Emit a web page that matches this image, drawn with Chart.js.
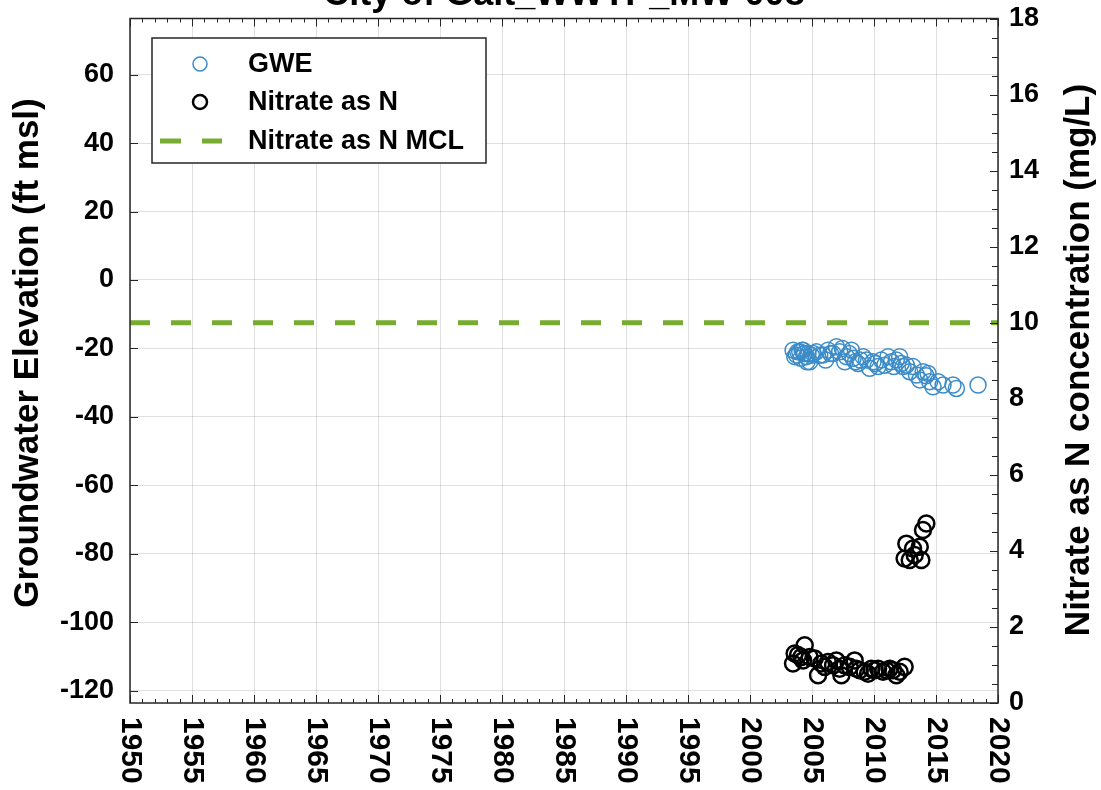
<!DOCTYPE html>
<html>
<head>
<meta charset="utf-8">
<script src="https://cdn.jsdelivr.net/npm/chart.js@4.4.0/dist/chart.umd.min.js"></script>
<style>
  html, body { margin: 0; padding: 0; background: #fff; overflow: hidden; }
  canvas { display: block; }
</style>
</head>
<body>
<canvas id="chart" width="1101" height="790"></canvas>
<script>
// data
const chartTitle = 'City of Galt_WWTP_MW-008';
const leftTitle = 'Groundwater Elevation (ft msl)';
const rightTitle = 'Nitrate as N concentration (mg/L)';

const gweYears = [2003.47, 2003.61, 2003.74, 2003.85, 2004.01, 2004.10, 2004.20, 2004.28, 2004.35, 2004.41,
  2004.55, 2004.60, 2004.68, 2004.82, 2004.95, 2005.10, 2005.35, 2005.62, 2005.89, 2006.10,
  2006.29, 2006.50, 2006.70, 2006.97, 2007.23, 2007.45, 2007.64, 2007.77, 2008.00, 2008.18,
  2008.31, 2008.50, 2008.71, 2008.90, 2009.12, 2009.39, 2009.65, 2009.92, 2010.10, 2010.33,
  2010.59, 2010.86, 2011.13, 2011.40, 2011.60, 2011.80, 2012.07, 2012.20, 2012.34, 2012.61,
  2012.88, 2013.15, 2013.42, 2013.69, 2013.96, 2014.20, 2014.36, 2014.49, 2014.76, 2015.17,
  2015.57, 2016.37, 2016.64, 2018.39];
const gweValues = [-20.5, -22.4, -21.9, -21.0, -21.0, -22.9, -20.5, -20.5, -21.5, -21.5,
  -22.4, -23.9, -21.5, -23.9, -22.0, -21.5, -21.0, -22.0, -21.9, -23.4,
  -20.5, -21.5, -21.5, -19.5, -21.0, -20.0, -23.9, -22.4, -21.5, -20.5,
  -22.9, -23.9, -24.4, -23.4, -22.4, -23.4, -25.8, -23.9, -24.4, -25.3,
  -23.4, -24.9, -22.4, -23.9, -25.3, -23.4, -22.4, -24.4, -25.3, -24.9,
  -26.8, -25.3, -27.8, -29.2, -26.8, -28.0, -27.3, -29.7, -31.2, -29.7,
  -30.7, -30.7, -31.7, -30.7];

const nitrateYears = [2003.47, 2003.60, 2003.87, 2004.14, 2004.41, 2004.28, 2004.81, 2005.22, 2005.49, 2005.75,
  2006.02, 2006.29, 2006.70, 2006.96, 2007.23, 2007.37, 2007.64, 2008.04, 2008.44, 2008.58,
  2008.85, 2009.25, 2009.52, 2009.79, 2010.06, 2010.33, 2010.73, 2011.00, 2011.27, 2011.53,
  2011.80, 2012.07, 2012.47,
  2012.61, 2012.47, 2012.88, 2013.15, 2013.28, 2013.69, 2013.82, 2013.95, 2014.22];
const nitrateValues = [1.04, 1.30, 1.26, 1.21, 1.52, 1.12, 1.21, 1.17, 0.73, 1.04,
  0.95, 1.08, 0.99, 1.12, 0.90, 0.73, 0.99, 0.95, 1.12, 0.90,
  0.86, 0.82, 0.77, 0.90, 0.86, 0.90, 0.82, 0.86, 0.90, 0.86,
  0.73, 0.82, 0.95,
  4.19, 3.80, 3.76, 4.06, 3.89, 4.11, 3.76, 4.55, 4.72];

const mclYears = [1950, 2020];
const mclValues = [10, 10];

const yearTicks = [1950, 1955, 1960, 1965, 1970, 1975, 1980, 1985, 1990, 1995, 2000, 2005, 2010, 2015, 2020];
const elevTicks = [-120, -100, -80, -60, -40, -20, 0, 20, 40, 60];
const concTicks = [0, 2, 4, 6, 8, 10, 12, 14, 16, 18];

const FONT = '"Liberation Sans", Arial, Helvetica, sans-serif';
const axisColor = '#262626';
const gridColor = 'rgba(38,38,38,0.14)';
const gweColor = 'rgb(60,140,200)';
const mclColor = '#77AC30';

function toPoints(xs, ys) {
  return xs.map((x, i) => ({ x: x, y: ys[i] }));
}

// box, inward ticks, rotated labels, titles and legend
const framePlugin = {
  id: 'frame',
  afterDraw(chart) {
    const ctx = chart.ctx;
    const a = chart.chartArea;
    const sx = chart.scales.x, sl = chart.scales.y, sr = chart.scales.y2;
    ctx.save();

    // ticks
    ctx.strokeStyle = axisColor;
    ctx.lineWidth = 1;
    ctx.beginPath();
    for (let yr = yearTicks[0]; yr <= yearTicks[yearTicks.length - 1]; yr++) {
      const px = Math.round(sx.getPixelForValue(yr)) + 0.5;
      const len = yr % 5 === 0 ? 8 : 4;
      ctx.moveTo(px, a.bottom); ctx.lineTo(px, a.bottom - len);
      ctx.moveTo(px, a.top); ctx.lineTo(px, a.top + len);
    }
    elevTicks.forEach(v => {
      const py = Math.round(sl.getPixelForValue(v)) + 0.5;
      ctx.moveTo(a.left, py); ctx.lineTo(a.left + 8, py);
    });
    for (let v = concTicks[0]; v <= concTicks[concTicks.length - 1]; v += 0.5) {
      const py = Math.round(sr.getPixelForValue(v)) + 0.5;
      const len = v % 2 === 0 ? 8 : 6;
      ctx.moveTo(a.right, py); ctx.lineTo(a.right - len, py);
    }
    ctx.stroke();

    // axes box
    ctx.lineWidth = 1.5;
    ctx.strokeRect(a.left, a.top, a.right - a.left, a.bottom - a.top);

    // x labels, turned clockwise
    ctx.fillStyle = '#000';
    ctx.font = 'bold 30px ' + FONT;
    ctx.textAlign = 'left';
    ctx.textBaseline = 'middle';
    yearTicks.forEach(v => {
      ctx.save();
      ctx.translate(sx.getPixelForValue(v), a.bottom + 14);
      ctx.rotate(Math.PI / 2);
      ctx.fillText(String(v), 0, 0);
      ctx.restore();
    });

    // axis titles
    ctx.font = 'bold 35px ' + FONT;
    ctx.textAlign = 'center';
    ctx.textBaseline = 'alphabetic';
    ctx.save();
    ctx.translate(38, 353);
    ctx.rotate(-Math.PI / 2);
    ctx.fillText(leftTitle, 0, 0);
    ctx.restore();
    ctx.save();
    ctx.translate(1089, 360);
    ctx.rotate(-Math.PI / 2);
    ctx.fillText(rightTitle, 0, 0);
    ctx.restore();

    // title, mostly above the page edge
    ctx.font = 'bold 36px ' + FONT;
    ctx.fillText(chartTitle, (a.left + a.right) / 2, 5);

    // legend
    const lx = 152, ly = 38, lw = 334, lh = 125;
    ctx.fillStyle = '#fff';
    ctx.fillRect(lx, ly, lw, lh);
    ctx.strokeStyle = axisColor;
    ctx.lineWidth = 1.5;
    ctx.strokeRect(lx, ly, lw, lh);
    const rows = [64, 102, 141];
    const ds = chart.data.datasets;
    ctx.font = 'bold 27px ' + FONT;
    ctx.textAlign = 'left';
    ctx.textBaseline = 'middle';
    ds.forEach((d, i) => {
      const cy = rows[i];
      ctx.strokeStyle = d.borderColor;
      ctx.lineWidth = d.borderWidth;
      ctx.beginPath();
      if (d.showLine) {
        ctx.moveTo(160, cy); ctx.lineTo(181, cy);
        ctx.moveTo(202, cy); ctx.lineTo(222, cy);
      } else {
        ctx.arc(200, cy, 7, 0, Math.PI * 2);
      }
      ctx.stroke();
      ctx.fillStyle = '#000';
      ctx.fillText(d.label, 248, cy + 1);
    });

    ctx.restore();
  }
};

const tickFont = { family: FONT, size: 27, weight: 'bold' };

function noPad(s) {
  s.paddingTop = 0; s.paddingBottom = 0; s.paddingLeft = 0; s.paddingRight = 0;
}

new Chart(document.getElementById('chart').getContext('2d'), {
  type: 'scatter',
  data: {
    datasets: [{
      label: 'GWE',
      data: toPoints(gweYears, gweValues),
      yAxisID: 'y',
      borderColor: gweColor,
      backgroundColor: 'rgba(0,0,0,0)',
      borderWidth: 1.5,
      pointRadius: 8,
      pointHoverRadius: 8,
      showLine: false
    }, {
      label: 'Nitrate as N',
      data: toPoints(nitrateYears, nitrateValues),
      yAxisID: 'y2',
      borderColor: '#000',
      backgroundColor: 'rgba(0,0,0,0)',
      borderWidth: 2.5,
      pointRadius: 8,
      pointHoverRadius: 8,
      showLine: false
    }, {
      label: 'Nitrate as N MCL',
      data: toPoints(mclYears, mclValues),
      yAxisID: 'y2',
      borderColor: mclColor,
      borderWidth: 5,
      borderDash: [20, 21],
      pointRadius: 0,
      showLine: true,
      order: 5
    }]
  },
  options: {
    responsive: false,
    animation: false,
    events: [],
    layout: { padding: { top: 18.5, left: 0, right: 0, bottom: 0 } },
    plugins: {
      legend: { display: false },
      tooltip: { enabled: false },
      title: { display: false }
    },
    scales: {
      x: {
        type: 'linear',
        min: 1950,
        max: 2020,
        afterBuildTicks: s => { s.ticks = yearTicks.map(v => ({ value: v })); },
        afterFit: s => { s.height = 87; noPad(s); },
        grid: { color: gridColor, drawTicks: false },
        border: { display: false },
        ticks: { display: false }
      },
      y: {
        position: 'left',
        min: -123.6,
        max: 76.4,
        afterBuildTicks: s => { s.ticks = elevTicks.map(v => ({ value: v })); },
        afterFit: s => { s.width = 130; noPad(s); },
        grid: { color: gridColor, drawTicks: false },
        border: { display: false },
        ticks: { font: tickFont, color: '#000', padding: 16 }
      },
      y2: {
        position: 'right',
        min: 0,
        max: 18,
        afterBuildTicks: s => { s.ticks = concTicks.map(v => ({ value: v })); },
        afterFit: s => { s.width = 103; noPad(s); },
        grid: { drawOnChartArea: false, drawTicks: false },
        border: { display: false },
        ticks: { font: tickFont, color: '#000', padding: 11 }
      }
    }
  },
  plugins: [framePlugin]
});
</script>
</body>
</html>
